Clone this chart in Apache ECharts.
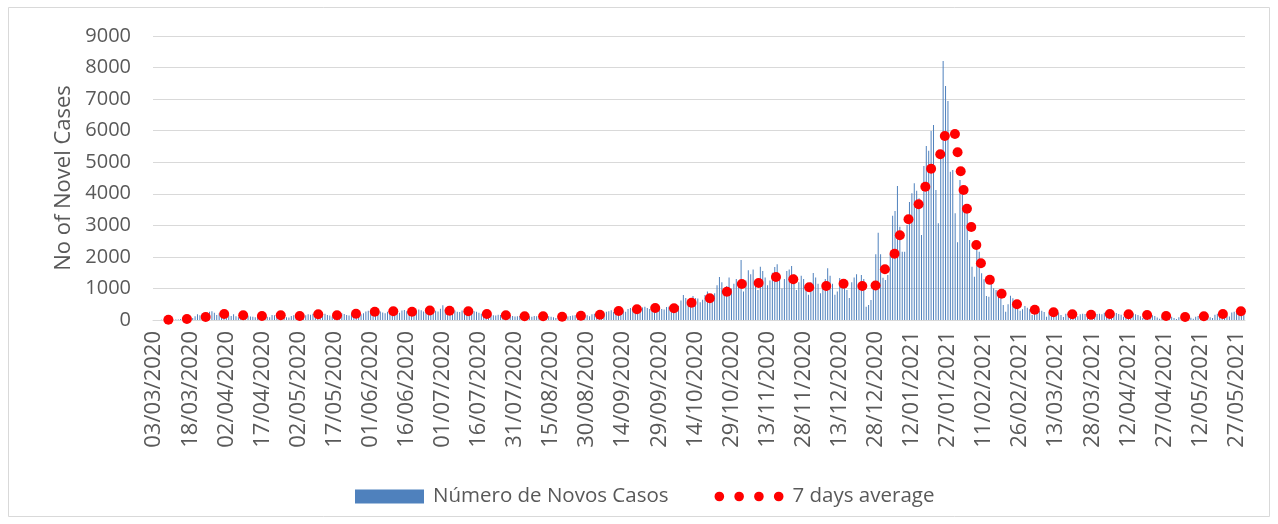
<!DOCTYPE html>
<html>
<head>
<meta charset="utf-8">
<script src="https://cdn.jsdelivr.net/npm/echarts@6/dist/echarts.min.js"></script>
<style>
  html, body { margin: 0; padding: 0; background: #fff; }
  #chart { width: 1278px; height: 524px; }
</style>
</head>
<body>
<div id="chart"></div>
<script>
// casos diarios, um valor por dia desde 03/03/2020 (blocos de 15 dias)
let dailyCases = [
    2, 0, 2, 4, 4, 8, 9, 11, 10, 19, 19, 34, 33, 65, 86,
    70, 60, 120, 180, 150, 210, 200, 170, 260, 280, 230, 160, 210, 250, 220,
    190, 150, 130, 180, 120, 90, 140, 170, 160, 130, 110, 100, 90, 150, 140,
    130, 120, 100, 90, 160, 150, 140, 130, 170, 120, 90, 80, 130, 150, 140,
    120, 110, 90, 150, 180, 170, 200, 190, 130, 120, 180, 200, 160, 140, 110,
    130, 150, 170, 210, 190, 160, 140, 200, 230, 250, 220, 180, 210, 270, 290,
    260, 230, 280, 300, 270, 240, 210, 260, 310, 290, 280, 250, 230, 300, 320,
    280, 270, 250, 230, 290, 330, 310, 270, 250, 300, 340, 330, 290, 270, 360,
    470, 330, 300, 280, 320, 300, 260, 250, 300, 310, 290, 270, 240, 280, 260,
    230, 200, 170, 190, 210, 180, 150, 140, 170, 160, 140, 120, 150, 140, 130,
    110, 120, 130, 100, 90, 120, 110, 100, 130, 120, 90, 80, 110, 130, 120,
    100, 90, 60, 110, 120, 100, 80, 110, 130, 140, 150, 120, 100, 160, 170,
    150, 120, 180, 200, 190, 170, 150, 230, 260, 280, 310, 250, 220, 300, 340,
    300, 260, 350, 380, 360, 330, 290, 340, 400, 420, 380, 350, 300, 390, 430,
    400, 350, 330, 410, 420, 390, 360, 300, 450, 620, 790, 700, 540, 480, 760,
    700, 680, 560, 640, 790, 900, 820, 620, 850, 1100, 1360, 1200, 1000, 1080, 1350,
    1000, 1150, 1300, 1100, 1900, 900, 1250, 1580, 1450, 1600, 1200, 950, 1690, 1550, 1350,
    1100, 1250, 1500, 1680, 1765, 1400, 1000, 1300, 1550, 1600, 1710, 1450, 950, 1200, 1400,
    1300, 1100, 800, 1200, 1490, 1350, 1150, 850, 1000, 1300, 1640, 1400, 1150, 800, 900,
    1330, 1250, 1100, 950, 700, 1200, 1350, 1450, 1100, 1426, 1300, 422, 475, 634, 1003,
    2080, 2767, 2080, 1341, 1267, 1426, 2080, 3306, 3454, 4246, 2957, 2165, 2165, 3010, 3739,
    4013, 4330, 4098, 3855, 2693, 4880, 5513, 5365, 5989, 6179, 4119, 3063, 5228, 8207, 7414,
    6939, 4700, 4753, 3380, 2461, 4436, 4013, 3644, 3380, 2535, 1690, 1373, 2323, 2165, 1479,
    1288, 760, 739, 1288, 1003, 950, 897, 686, 475, 264, 496, 771, 686, 422, 400,
    296, 338, 444, 391, 338, 158, 296, 254, 296, 296, 254, 106, 220, 254, 240,
    254, 230, 158, 95, 200, 210, 220, 190, 158, 120, 180, 200, 190, 170, 110,
    80, 150, 190, 200, 180, 230, 120, 60, 160, 210, 220, 190, 170, 100, 70,
    150, 200, 210, 180, 160, 120, 60, 140, 170, 160, 150, 130, 80, 40, 110,
    140, 130, 120, 100, 60, 30, 90, 120, 110, 100, 90, 70, 40, 100, 130,
    140, 150, 170, 150, 90, 60, 170, 200, 210, 230, 190, 150, 110, 240, 260,
    280, 300, 260, 200
];

// media 7 dias: posicao (dia desde o inicio) e valor de cada ponto
let avgDay = [
    5.9, 13.6, 21.4, 29.1, 37.0, 44.8, 52.6, 60.5, 68.2, 76.0,
    83.9, 91.7, 99.4, 107.2, 114.6, 122.8, 130.6, 138.3, 146.2, 154.0,
    161.7, 169.6, 177.4, 185.3, 193.1, 200.7, 208.3, 216.1, 223.4, 231.0,
    238.1, 244.3, 251.3, 258.5, 265.7, 272.3, 279.4, 286.6, 294.4, 299.9,
    303.8, 307.8, 310.0, 313.6, 317.8, 320.6, 323.0, 326.8, 328.7, 332.9,
    334.0, 335.3, 336.5, 337.9, 339.7, 341.8, 343.7, 347.4, 352.3, 358.7,
    366.1, 373.9, 381.7, 389.5, 397.3, 405.1, 412.8, 420.7, 428.6, 436.4,
    444.3, 451.8
];
let avgValue = [
    10, 30, 95, 190, 150, 127, 150, 127, 180, 150,
    200, 263, 275, 263, 300, 295, 275, 190, 150, 117,
    117, 105, 136, 168, 285, 339, 380, 370, 545, 688,
    897, 1141, 1172, 1363, 1290, 1036, 1077, 1150, 1077, 1095,
    1606, 2101, 2684, 3195, 3670, 4224, 4794, 5250, 5830, 5894,
    5314, 4712, 4119, 3527, 2950, 2376, 1797, 1272, 830, 497,
    326, 244, 180, 168, 190, 180, 158, 127, 95, 117,
    190, 276
];

let startDate = Date.UTC(2020, 2, 3);
let yMax = 9000;
let yStep = 1000;
let labelStep = 15;

function pad(n) {
    return n < 10 ? '0' + n : '' + n;
}

let dates = [];
for (let i = 0; i < dailyCases.length; i++) {
    let d = new Date(startDate + i * 86400000);
    dates.push(pad(d.getUTCDate()) + '/' + pad(d.getUTCMonth() + 1) + '/' + d.getUTCFullYear());
}

let avgData = [];
for (let i = 0; i < avgDay.length; i++) {
    avgData.push([avgDay[i], avgValue[i]]);
}

let fontName = "'Open Sans', sans-serif";
let textColor = '#595959';
let gridColor = '#d9d9d9';

// icone da legenda: 4 pontos
let dotsIcon = 'path://M0,4.5a4.5,4.5 0 1,0 9,0a4.5,4.5 0 1,0 -9,0Z' +
    'M18.5,4.5a4.5,4.5 0 1,0 9,0a4.5,4.5 0 1,0 -9,0Z' +
    'M37,4.5a4.5,4.5 0 1,0 9,0a4.5,4.5 0 1,0 -9,0Z' +
    'M55.5,4.5a4.5,4.5 0 1,0 9,0a4.5,4.5 0 1,0 -9,0Z';

let myChart = echarts.init(document.getElementById('chart'));
let option = {
    animation: false,
    backgroundColor: '#fff',
    textStyle: {fontFamily: fontName},
    graphic: [{
        type: 'rect',
        shape: {x: 8.5, y: 7.5, width: 1261, height: 509},
        style: {fill: 'none', stroke: gridColor, lineWidth: 1},
        silent: true
    }],
    grid: {left: 153, right: 33, top: 36, bottom: 204},
    legend: {
        top: 481,
        left: 350,
        itemWidth: 69,
        itemHeight: 14,
        itemGap: 46,
        textStyle: {color: textColor, fontSize: 20.5, fontFamily: fontName, padding: [0, 0, 0, 4]},
        data: [
            {name: 'Número de Novos Casos', icon: 'rect'},
            {name: '7 days average', icon: dotsIcon}
        ]
    },
    xAxis: [{
        type: 'category',
        data: dates,
        boundaryGap: true,
        axisLine: {lineStyle: {color: gridColor, width: 1}},
        axisTick: {interval: labelStep - 1, length: 6, lineStyle: {color: gridColor}},
        axisLabel: {
            interval: labelStep - 1,
            rotate: 90,
            margin: 11,
            color: textColor,
            fontSize: 22,
            fontFamily: fontName
        },
        splitLine: {show: false}
    }, {
        type: 'value',
        min: -0.5,
        max: dailyCases.length - 0.5,
        show: false
    }],
    yAxis: {
        type: 'value',
        min: 0,
        max: yMax,
        interval: yStep,
        name: 'No of Novel Cases',
        nameLocation: 'middle',
        nameGap: 78,
        nameTextStyle: {color: textColor, fontSize: 22, fontFamily: fontName},
        axisLine: {show: false},
        axisTick: {show: false},
        axisLabel: {
            margin: 22,
            color: textColor,
            fontSize: 20,
            fontFamily: fontName,
            formatter: function (v) { return String(v); }
        },
        splitLine: {lineStyle: {color: gridColor, width: 1}}
    },
    series: [{
        name: 'Número de Novos Casos',
        type: 'bar',
        xAxisIndex: 0,
        data: dailyCases,
        barWidth: 1,
        itemStyle: {color: '#4f81bd'}
    }, {
        name: '7 days average',
        type: 'scatter',
        xAxisIndex: 1,
        data: avgData,
        symbolSize: 10,
        itemStyle: {color: '#ff0000', opacity: 1},
        z: 3
    }]
};
myChart.setOption(option);
</script>
</body>
</html>
